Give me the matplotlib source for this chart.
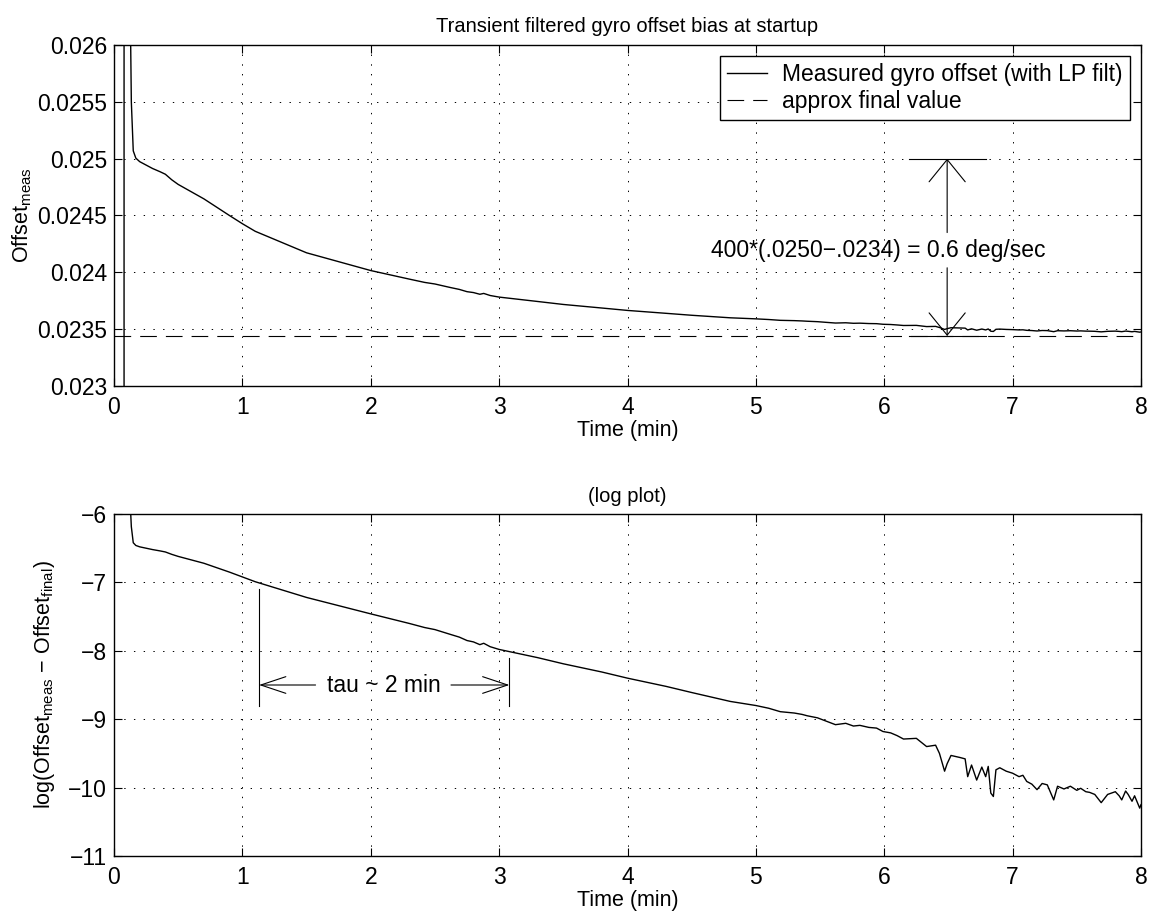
import matplotlib
matplotlib.use("Agg")
import matplotlib.pyplot as plt
import numpy as np

plt.rcParams["font.family"] = ["Liberation Sans", "DejaVu Sans"]
plt.rcParams["lines.scale_dashes"] = False

# startup transient (raw offset values)
t_start = [0.0, 0.078, 0.079, 0.105, 0.125, 0.135]
offset_start = [0.0, 0.0, 0.06, 0.035, 0.0265, 0.0255]

# decay part: log(offset - final)
t_main = [0.15, 0.17, 0.20, 0.30, 0.36, 0.40, 0.45, 0.50, 0.70, 0.90,
          1.00, 1.10, 1.50, 2.00, 2.30, 2.42, 2.50, 2.62, 2.69, 2.75,
          2.80, 2.85, 2.88, 2.93, 3.00, 3.30, 3.50, 3.80, 4.00, 4.30,
          4.50, 4.80, 5.00, 5.10, 5.19, 5.30, 5.36, 5.40, 5.48, 5.55,
          5.62, 5.70, 5.76, 5.81, 5.88, 5.94, 5.99, 6.05, 6.10, 6.15,
          6.25, 6.33, 6.40, 6.43, 6.47, 6.49, 6.52, 6.59, 6.63, 6.65,
          6.68, 6.72, 6.76, 6.79, 6.81, 6.83, 6.85, 6.87, 6.90, 6.95,
          7.00, 7.05, 7.08, 7.11, 7.15, 7.19, 7.23, 7.27, 7.32, 7.35,
          7.40, 7.45, 7.50, 7.53, 7.57, 7.60, 7.64, 7.69, 7.74, 7.80,
          7.83, 7.85, 7.88, 7.90, 7.93, 7.95, 7.99, 8.00]
log_main = [-6.42, -6.46, -6.48, -6.52, -6.54, -6.555, -6.59, -6.62, -6.72, -6.85,
            -6.92, -6.99, -7.22, -7.46, -7.60, -7.66, -7.69, -7.76, -7.80, -7.85,
            -7.87, -7.91, -7.89, -7.94, -7.98, -8.10, -8.19, -8.31, -8.40, -8.52,
            -8.61, -8.74, -8.80, -8.84, -8.89, -8.91, -8.93, -8.95, -8.98, -9.03,
            -9.08, -9.06, -9.10, -9.09, -9.12, -9.13, -9.18, -9.20, -9.24, -9.29,
            -9.28, -9.40, -9.38, -9.50, -9.76, -9.65, -9.53, -9.56, -9.58, -9.84,
            -9.67, -9.89, -9.70, -9.84, -9.69, -10.08, -10.13, -9.74, -9.71, -9.76,
            -9.79, -9.84, -9.82, -9.91, -9.95, -10.03, -9.94, -9.96, -10.18, -9.98,
            -10.02, -9.98, -10.04, -10.01, -10.06, -10.07, -10.10, -10.22, -10.10, -10.06,
            -10.12, -10.18, -10.05, -10.10, -10.20, -10.12, -10.30, -10.25]

final_value = 0.02344

top_yticks = [0.023, 0.0235, 0.024, 0.0245, 0.025, 0.0255, 0.026]
top_yticklabels = ["0.023", "0.0235", "0.024", "0.0245", "0.025", "0.0255", "0.026"]
bot_yticks = [-11, -10, -9, -8, -7, -6]
bot_yticklabels = ["\u221211", "\u221210", "\u22129", "\u22128", "\u22127", "\u22126"]
xticks = [0, 1, 2, 3, 4, 5, 6, 7, 8]

t = np.array(t_start + t_main)
offset = np.concatenate([offset_start, final_value + np.exp(log_main)])
diff = offset - final_value
log_diff = np.full_like(diff, np.nan)
log_diff[diff > 0] = np.log(diff[diff > 0])

FS = 16.5
W, H = 1151, 917
fig = plt.figure(figsize=(W / 100, H / 100), dpi=100)
ax1 = fig.add_axes([114 / W, (H - 386) / H, 1027 / W, 341 / H])
ax2 = fig.add_axes([114 / W, (H - 856) / H, 1027 / W, 342 / H])


def style_axes(ax):
    ax.set_xlim(0, 8)
    ax.set_xticks(xticks)
    ax.grid(True, color="black", linestyle=(0, (1, 6)), linewidth=0.7)
    ax.tick_params(direction="in", top=True, right=True, length=6,
                   width=0.8, labelsize=FS)
    ax.tick_params(axis="x", pad=7)
    ax.tick_params(axis="y", pad=5)
    for sp in ax.spines.values():
        sp.set_linewidth(1.0)
    ax.set_xlabel("Time (min)", fontsize=15.5, labelpad=1)


# top panel
ax1.plot(t, offset, color="black", linewidth=1.0,
         label="Measured gyro offset (with LP filt)")
ax1.axhline(final_value, color="black", linewidth=0.8, linestyle=(0, (12, 6.5)),
            label="approx final value")
ax1.set_ylim(0.023, 0.026)
ax1.set_yticks(top_yticks)
ax1.set_yticklabels(top_yticklabels)
style_axes(ax1)
ax1.set_ylabel("Offset$_\\mathregular{meas}$", fontsize=15.5, labelpad=2)
ax1.set_title("Transient filtered gyro offset bias at startup", fontsize=14.5, pad=9)
leg = ax1.legend(loc="upper right", fontsize=FS, fancybox=False, framealpha=1,
                 edgecolor="black", handlelength=1.75, borderaxespad=0.5,
                 borderpad=0.3, labelspacing=0.15, handletextpad=0.65)
leg.get_frame().set_linewidth(1.0)

# size of the drift marked on the top panel
ax1.plot([6.19, 6.79], [0.0250, 0.0250], color="black", linewidth=0.8)
ax1.plot([6.19, 6.79], [final_value, final_value], color="black", linewidth=0.8)
arrow_v = dict(arrowstyle="->,head_length=1.6,head_width=1.3", color="black",
               linewidth=0.8, shrinkA=0, shrinkB=0, mutation_scale=10)
ax1.annotate("", xy=(6.49, 0.0250), xytext=(6.49, 0.02435), arrowprops=arrow_v)
ax1.annotate("", xy=(6.49, final_value), xytext=(6.49, 0.02404), arrowprops=arrow_v)
ax1.text(5.95, 0.02419, "400*(.0250\u2212.0234) = 0.6 deg/sec", fontsize=FS,
         ha="center", va="center")

# bottom panel
ax2.plot(t, log_diff, color="black", linewidth=1.0)
ax2.set_ylim(-11, -6)
ax2.set_yticks(bot_yticks)
ax2.set_yticklabels(bot_yticklabels)
style_axes(ax2)
ax2.set_ylabel("log(Offset$_\\mathregular{meas}$ \u2212 Offset$_\\mathregular{final}$)",
               fontsize=15.5, labelpad=8)
ax2.set_title("(log plot)", fontsize=14.5, pad=9)

# time constant marker
arrow_h = dict(arrowstyle="->,head_length=1.8,head_width=0.6", color="black",
               linewidth=0.8, shrinkA=0, shrinkB=0, mutation_scale=10)
ax2.plot([1.13, 1.13], [-7.1, -8.8], color="black", linewidth=0.8)
ax2.plot([3.08, 3.08], [-8.1, -8.8], color="black", linewidth=0.8)
ax2.annotate("", xy=(1.13, -8.5), xytext=(1.57, -8.5), arrowprops=arrow_h)
ax2.annotate("", xy=(3.08, -8.5), xytext=(2.625, -8.5), arrowprops=arrow_h)
ax2.text(2.10, -8.5, "tau ~ 2 min", fontsize=FS, ha="center", va="center")

fig.savefig("out.png", dpi=100)
